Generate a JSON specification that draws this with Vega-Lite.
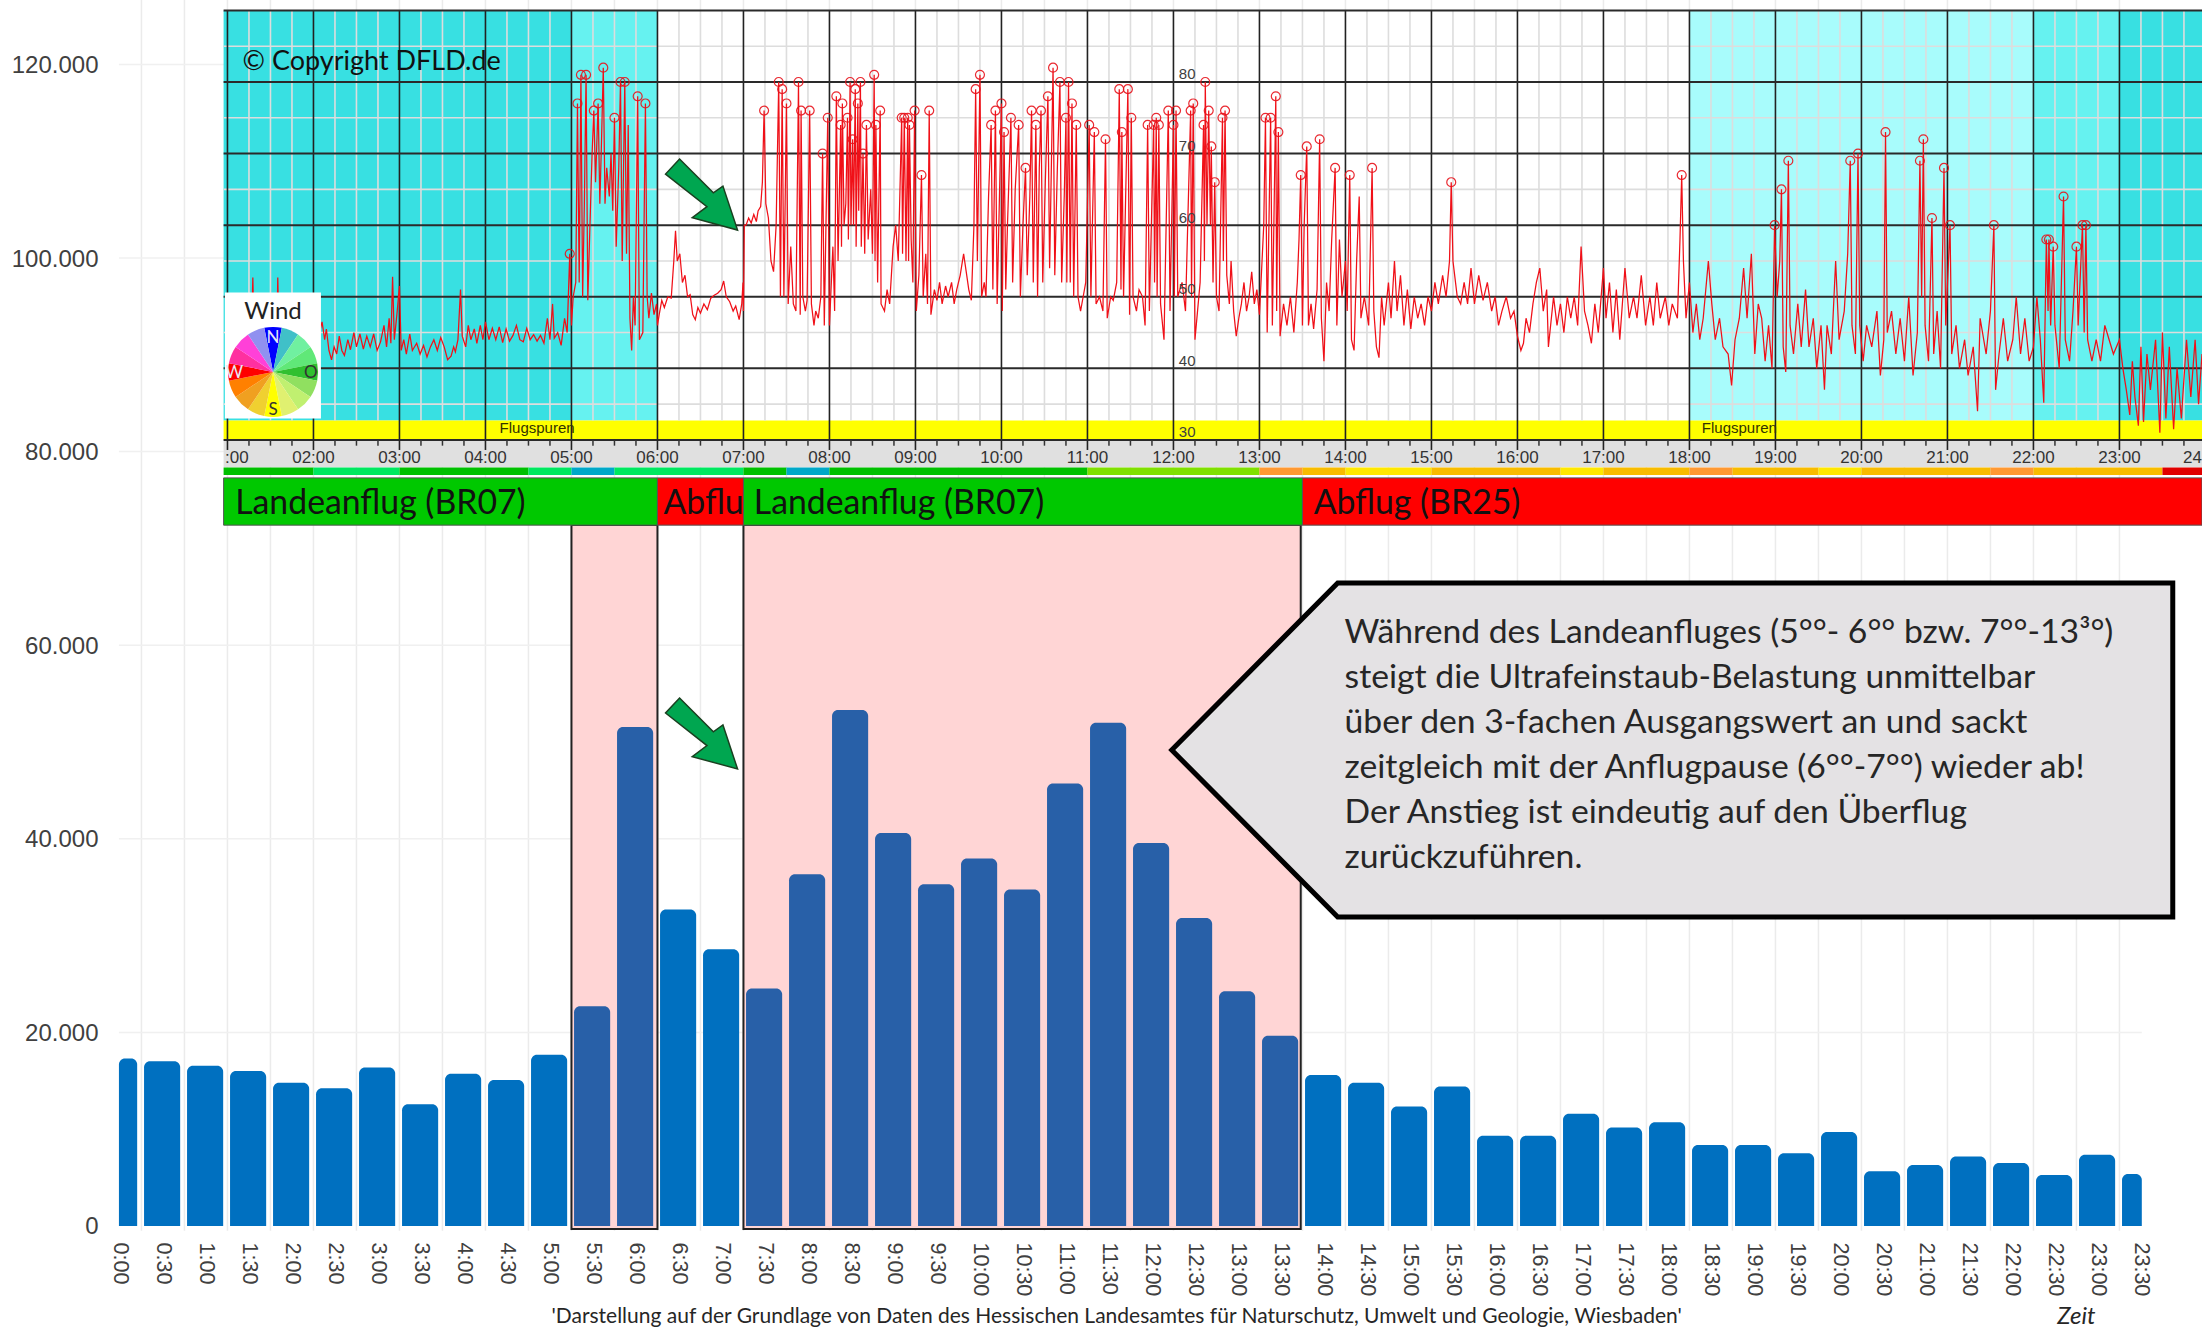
{"$schema":"https://vega.github.io/schema/vega-lite/v6.json","width":2202,"height":1327,"autosize":"none","padding":0,"background":"white",
"config":{"view":{"stroke":null},"text":{"font":"Lato"},"axis":{"grid":false,"domain":false,"ticks":false}},
"datasets":{
"halb":[{"t":0},{"t":0.5},{"t":1},{"t":1.5},{"t":2},{"t":2.5},{"t":3},{"t":3.5},{"t":4},{"t":4.5},{"t":5},{"t":5.5},{"t":6},{"t":6.5},{"t":7},{"t":7.5},{"t":8},{"t":8.5},{"t":9},{"t":9.5},{"t":10},{"t":10.5},{"t":11},{"t":11.5},{"t":12},{"t":12.5},{"t":13},{"t":13.5},{"t":14},{"t":14.5},{"t":15},{"t":15.5},{"t":16},{"t":16.5},{"t":17},{"t":17.5},{"t":18},{"t":18.5},{"t":19},{"t":19.5},{"t":20},{"t":20.5},{"t":21},{"t":21.5},{"t":22},{"t":22.5},{"t":23}],
"stunden":[{"t":1},{"t":2},{"t":3},{"t":4},{"t":5},{"t":6},{"t":7},{"t":8},{"t":9},{"t":10},{"t":11},{"t":12},{"t":13},{"t":14},{"t":15},{"t":16},{"t":17},{"t":18},{"t":19},{"t":20},{"t":21},{"t":22},{"t":23}],
"viertel":[{"t":1.25},{"t":1.5},{"t":1.75},{"t":2.25},{"t":2.5},{"t":2.75},{"t":3.25},{"t":3.5},{"t":3.75},{"t":4.25},{"t":4.5},{"t":4.75},{"t":5.25},{"t":5.5},{"t":5.75},{"t":6.25},{"t":6.5},{"t":6.75},{"t":7.25},{"t":7.5},{"t":7.75},{"t":8.25},{"t":8.5},{"t":8.75},{"t":9.25},{"t":9.5},{"t":9.75},{"t":10.25},{"t":10.5},{"t":10.75},{"t":11.25},{"t":11.5},{"t":11.75},{"t":12.25},{"t":12.5},{"t":12.75},{"t":13.25},{"t":13.5},{"t":13.75},{"t":14.25},{"t":14.5},{"t":14.75},{"t":15.25},{"t":15.5},{"t":15.75},{"t":16.25},{"t":16.5},{"t":16.75},{"t":17.25},{"t":17.5},{"t":17.75},{"t":18.25},{"t":18.5},{"t":18.75},{"t":19.25},{"t":19.5},{"t":19.75},{"t":20.25},{"t":20.5},{"t":20.75},{"t":21.25},{"t":21.5},{"t":21.75},{"t":22.25},{"t":22.5},{"t":22.75},{"t":23.25},{"t":23.5},{"t":23.75}],
"balken":[{"l":"0:00","von":-0.262,"bis":-0.05,"w":17300,"b":"aus"},{"l":"0:30","von":0.03,"bis":0.45,"w":17030,"b":"aus"},{"l":"1:00","von":0.53,"bis":0.95,"w":16550,"b":"aus"},{"l":"1:30","von":1.03,"bis":1.45,"w":16000,"b":"aus"},{"l":"2:00","von":1.53,"bis":1.95,"w":14800,"b":"aus"},{"l":"2:30","von":2.03,"bis":2.45,"w":14240,"b":"aus"},{"l":"3:00","von":2.53,"bis":2.95,"w":16380,"b":"aus"},{"l":"3:30","von":3.03,"bis":3.45,"w":12590,"b":"aus"},{"l":"4:00","von":3.53,"bis":3.95,"w":15720,"b":"aus"},{"l":"4:30","von":4.03,"bis":4.45,"w":15070,"b":"aus"},{"l":"5:00","von":4.53,"bis":4.95,"w":17690,"b":"aus"},{"l":"5:30","von":5.03,"bis":5.45,"w":22690,"b":"an"},{"l":"6:00","von":5.53,"bis":5.95,"w":51540,"b":"an"},{"l":"6:30","von":6.03,"bis":6.45,"w":32700,"b":"aus"},{"l":"7:00","von":6.53,"bis":6.95,"w":28600,"b":"aus"},{"l":"7:30","von":7.03,"bis":7.45,"w":24530,"b":"an"},{"l":"8:00","von":7.53,"bis":7.95,"w":36350,"b":"an"},{"l":"8:30","von":8.03,"bis":8.45,"w":53300,"b":"an"},{"l":"9:00","von":8.53,"bis":8.95,"w":40600,"b":"an"},{"l":"9:30","von":9.03,"bis":9.45,"w":35300,"b":"an"},{"l":"10:00","von":9.53,"bis":9.95,"w":37960,"b":"an"},{"l":"10:30","von":10.03,"bis":10.45,"w":34750,"b":"an"},{"l":"11:00","von":10.53,"bis":10.95,"w":45700,"b":"an"},{"l":"11:30","von":11.03,"bis":11.45,"w":52000,"b":"an"},{"l":"12:00","von":11.53,"bis":11.95,"w":39570,"b":"an"},{"l":"12:30","von":12.03,"bis":12.45,"w":31830,"b":"an"},{"l":"13:00","von":12.53,"bis":12.95,"w":24240,"b":"an"},{"l":"13:30","von":13.03,"bis":13.45,"w":19660,"b":"an"},{"l":"14:00","von":13.53,"bis":13.95,"w":15600,"b":"aus"},{"l":"14:30","von":14.03,"bis":14.45,"w":14800,"b":"aus"},{"l":"15:00","von":14.53,"bis":14.95,"w":12350,"b":"aus"},{"l":"15:30","von":15.03,"bis":15.45,"w":14420,"b":"aus"},{"l":"16:00","von":15.53,"bis":15.95,"w":9320,"b":"aus"},{"l":"16:30","von":16.03,"bis":16.45,"w":9320,"b":"aus"},{"l":"17:00","von":16.53,"bis":16.95,"w":11600,"b":"aus"},{"l":"17:30","von":17.03,"bis":17.45,"w":10180,"b":"aus"},{"l":"18:00","von":17.53,"bis":17.95,"w":10730,"b":"aus"},{"l":"18:30","von":18.03,"bis":18.45,"w":8380,"b":"aus"},{"l":"19:00","von":18.53,"bis":18.95,"w":8380,"b":"aus"},{"l":"19:30","von":19.03,"bis":19.45,"w":7520,"b":"aus"},{"l":"20:00","von":19.53,"bis":19.95,"w":9700,"b":"aus"},{"l":"20:30","von":20.03,"bis":20.45,"w":5660,"b":"aus"},{"l":"21:00","von":20.53,"bis":20.95,"w":6310,"b":"aus"},{"l":"21:30","von":21.03,"bis":21.45,"w":7180,"b":"aus"},{"l":"22:00","von":21.53,"bis":21.95,"w":6520,"b":"aus"},{"l":"22:30","von":22.03,"bis":22.45,"w":5280,"b":"aus"},{"l":"23:00","von":22.53,"bis":22.95,"w":7350,"b":"aus"},{"l":"23:30","von":23.03,"bis":23.26,"w":5380,"b":"aus"}],
"pegel":[{"t":1.0,"d":45},{"t":1.05,"d":43},{"t":1.12,"d":44},{"t":1.2,"d":43},{"t":1.28,"d":45},{"t":1.295,"d":52.7},{"t":1.31,"d":44},{"t":1.4,"d":43},{"t":1.5,"d":44},{"t":1.575,"d":45},{"t":1.585,"d":52.7},{"t":1.6,"d":44},{"t":1.7,"d":43.5},{"t":1.8,"d":45},{"t":1.9,"d":44},{"t":2.0,"d":46},{"t":2.05,"d":44},{"t":2.1,"d":46.5},{"t":2.13,"d":44},{"t":2.15,"d":45.5},{"t":2.18,"d":42.5},{"t":2.21,"d":41.2},{"t":2.24,"d":43},{"t":2.27,"d":42},{"t":2.3,"d":44.5},{"t":2.33,"d":42.5},{"t":2.36,"d":41.8},{"t":2.4,"d":44},{"t":2.43,"d":42.6},{"t":2.47,"d":45},{"t":2.5,"d":43},{"t":2.54,"d":44.8},{"t":2.58,"d":42.7},{"t":2.62,"d":44.5},{"t":2.66,"d":43},{"t":2.7,"d":44.8},{"t":2.74,"d":42.5},{"t":2.78,"d":43.7},{"t":2.82,"d":46},{"t":2.85,"d":43},{"t":2.88,"d":47},{"t":2.9,"d":43.5},{"t":2.92,"d":52.8},{"t":2.94,"d":44},{"t":2.97,"d":47.5},{"t":3.0,"d":51.5},{"t":3.02,"d":42.5},{"t":3.05,"d":44},{"t":3.08,"d":42},{"t":3.12,"d":44.8},{"t":3.15,"d":42.5},{"t":3.2,"d":43.5},{"t":3.24,"d":42},{"t":3.28,"d":43.2},{"t":3.32,"d":41.6},{"t":3.36,"d":43},{"t":3.4,"d":44},{"t":3.44,"d":42.5},{"t":3.48,"d":44.3},{"t":3.52,"d":43},{"t":3.56,"d":41.2},{"t":3.6,"d":41.7},{"t":3.63,"d":43},{"t":3.65,"d":42.3},{"t":3.68,"d":44},{"t":3.71,"d":51},{"t":3.73,"d":44.5},{"t":3.77,"d":43},{"t":3.8,"d":46},{"t":3.83,"d":44},{"t":3.87,"d":45.5},{"t":3.9,"d":43.5},{"t":3.94,"d":46},{"t":3.97,"d":44},{"t":4.0,"d":46.5},{"t":4.04,"d":44},{"t":4.08,"d":45.6},{"t":4.12,"d":44},{"t":4.16,"d":45.8},{"t":4.2,"d":43.6},{"t":4.24,"d":45.5},{"t":4.28,"d":43.8},{"t":4.32,"d":44.6},{"t":4.36,"d":46},{"t":4.4,"d":44},{"t":4.44,"d":43.7},{"t":4.48,"d":45.6},{"t":4.52,"d":44},{"t":4.56,"d":44.7},{"t":4.6,"d":43.8},{"t":4.64,"d":44.6},{"t":4.68,"d":43.5},{"t":4.72,"d":47},{"t":4.75,"d":44},{"t":4.78,"d":49},{"t":4.8,"d":44.2},{"t":4.84,"d":45},{"t":4.88,"d":43.2},{"t":4.92,"d":47},{"t":4.95,"d":45},{"t":4.98,"d":56},{"t":5.0,"d":46},{"t":5.02,"d":50},{"t":5.05,"d":52},{"t":5.07,"d":77},{"t":5.09,"d":52},{"t":5.11,"d":81},{"t":5.13,"d":50},{"t":5.15,"d":63},{"t":5.17,"d":81},{"t":5.19,"d":49.5},{"t":5.22,"d":62},{"t":5.24,"d":70},{"t":5.26,"d":76},{"t":5.28,"d":66},{"t":5.31,"d":77},{"t":5.33,"d":63},{"t":5.35,"d":72},{"t":5.37,"d":82},{"t":5.39,"d":63},{"t":5.41,"d":68},{"t":5.44,"d":64},{"t":5.46,"d":70},{"t":5.48,"d":62},{"t":5.5,"d":75},{"t":5.52,"d":57},{"t":5.55,"d":68},{"t":5.57,"d":80},{"t":5.59,"d":55},{"t":5.62,"d":80},{"t":5.64,"d":56},{"t":5.66,"d":74},{"t":5.68,"d":47},{"t":5.7,"d":42.5},{"t":5.72,"d":50},{"t":5.74,"d":46},{"t":5.77,"d":78},{"t":5.79,"d":44},{"t":5.83,"d":45},{"t":5.86,"d":77},{"t":5.88,"d":50},{"t":5.9,"d":47},{"t":5.93,"d":50.5},{"t":5.96,"d":47.5},{"t":5.99,"d":49},{"t":6.0,"d":46},{"t":6.02,"d":47.5},{"t":6.05,"d":49.5},{"t":6.08,"d":48.5},{"t":6.12,"d":50},{"t":6.16,"d":49.8},{"t":6.19,"d":55},{"t":6.21,"d":59.2},{"t":6.23,"d":55},{"t":6.26,"d":56},{"t":6.29,"d":52},{"t":6.32,"d":53},{"t":6.35,"d":50},{"t":6.38,"d":50.3},{"t":6.41,"d":47.5},{"t":6.44,"d":46.8},{"t":6.47,"d":48.5},{"t":6.5,"d":47.7},{"t":6.54,"d":49},{"t":6.58,"d":48.2},{"t":6.62,"d":49.8},{"t":6.66,"d":50.2},{"t":6.7,"d":50.5},{"t":6.74,"d":51},{"t":6.77,"d":52.2},{"t":6.8,"d":50},{"t":6.84,"d":49.3},{"t":6.88,"d":48},{"t":6.91,"d":48.7},{"t":6.95,"d":46.8},{"t":6.98,"d":49},{"t":6.995,"d":52},{"t":7.0,"d":48},{"t":7.01,"d":60},{"t":7.03,"d":60},{"t":7.06,"d":61},{"t":7.09,"d":60.3},{"t":7.12,"d":61.5},{"t":7.15,"d":60.5},{"t":7.17,"d":62},{"t":7.2,"d":62.6},{"t":7.22,"d":66},{"t":7.24,"d":76},{"t":7.26,"d":63},{"t":7.29,"d":61},{"t":7.32,"d":55},{"t":7.35,"d":53.5},{"t":7.38,"d":60},{"t":7.41,"d":80},{"t":7.43,"d":50},{"t":7.45,"d":79},{"t":7.47,"d":50},{"t":7.5,"d":77},{"t":7.52,"d":49},{"t":7.55,"d":57},{"t":7.58,"d":49},{"t":7.61,"d":48},{"t":7.64,"d":80},{"t":7.66,"d":47.5},{"t":7.67,"d":76},{"t":7.69,"d":50},{"t":7.72,"d":48},{"t":7.74,"d":49.5},{"t":7.77,"d":76},{"t":7.79,"d":49},{"t":7.82,"d":46},{"t":7.84,"d":48},{"t":7.87,"d":47},{"t":7.9,"d":50},{"t":7.92,"d":70},{"t":7.94,"d":46},{"t":7.98,"d":75},{"t":8.0,"d":46},{"t":8.04,"d":57},{"t":8.06,"d":48},{"t":8.08,"d":78},{"t":8.1,"d":55},{"t":8.13,"d":74},{"t":8.14,"d":57},{"t":8.15,"d":77},{"t":8.17,"d":60},{"t":8.19,"d":63},{"t":8.21,"d":75},{"t":8.22,"d":58},{"t":8.24,"d":80},{"t":8.25,"d":60},{"t":8.27,"d":72},{"t":8.28,"d":60},{"t":8.3,"d":79},{"t":8.31,"d":57},{"t":8.33,"d":77},{"t":8.34,"d":62},{"t":8.36,"d":80},{"t":8.37,"d":57},{"t":8.39,"d":70},{"t":8.41,"d":56},{"t":8.43,"d":74},{"t":8.45,"d":58},{"t":8.48,"d":65},{"t":8.5,"d":56},{"t":8.52,"d":81},{"t":8.53,"d":55},{"t":8.54,"d":74},{"t":8.56,"d":52},{"t":8.59,"d":76},{"t":8.6,"d":49},{"t":8.64,"d":48},{"t":8.67,"d":51},{"t":8.7,"d":49},{"t":8.74,"d":57},{"t":8.77,"d":60},{"t":8.8,"d":55},{"t":8.84,"d":75},{"t":8.85,"d":56},{"t":8.87,"d":75},{"t":8.89,"d":55},{"t":8.91,"d":75},{"t":8.92,"d":55},{"t":8.93,"d":74},{"t":8.95,"d":58},{"t":8.97,"d":52},{"t":8.99,"d":76},{"t":9.01,"d":48},{"t":9.04,"d":53},{"t":9.07,"d":67},{"t":9.09,"d":50},{"t":9.12,"d":56},{"t":9.14,"d":49},{"t":9.16,"d":76},{"t":9.18,"d":47.5},{"t":9.22,"d":51},{"t":9.25,"d":49.5},{"t":9.28,"d":52},{"t":9.31,"d":49},{"t":9.35,"d":51.5},{"t":9.38,"d":50},{"t":9.42,"d":52},{"t":9.45,"d":49},{"t":9.48,"d":51},{"t":9.52,"d":53},{"t":9.56,"d":56},{"t":9.59,"d":53.5},{"t":9.62,"d":51},{"t":9.65,"d":49.5},{"t":9.68,"d":60},{"t":9.7,"d":79},{"t":9.72,"d":55},{"t":9.75,"d":81},{"t":9.77,"d":50},{"t":9.8,"d":52},{"t":9.82,"d":50},{"t":9.85,"d":64},{"t":9.88,"d":74},{"t":9.9,"d":51},{"t":9.93,"d":76},{"t":9.95,"d":49},{"t":10.0,"d":77},{"t":10.01,"d":48},{"t":10.03,"d":73},{"t":10.05,"d":51},{"t":10.07,"d":60},{"t":10.11,"d":75},{"t":10.13,"d":52},{"t":10.16,"d":65},{"t":10.2,"d":74},{"t":10.22,"d":50},{"t":10.25,"d":60},{"t":10.28,"d":68},{"t":10.3,"d":53},{"t":10.33,"d":64},{"t":10.35,"d":76},{"t":10.37,"d":52},{"t":10.4,"d":74},{"t":10.42,"d":50},{"t":10.44,"d":68},{"t":10.46,"d":76},{"t":10.48,"d":52},{"t":10.51,"d":66},{"t":10.54,"d":78},{"t":10.56,"d":54},{"t":10.6,"d":82},{"t":10.62,"d":53},{"t":10.65,"d":68},{"t":10.68,"d":80},{"t":10.7,"d":52},{"t":10.73,"d":64},{"t":10.75,"d":75},{"t":10.76,"d":52},{"t":10.78,"d":80},{"t":10.8,"d":52},{"t":10.82,"d":77},{"t":10.84,"d":50},{"t":10.87,"d":74},{"t":10.89,"d":50},{"t":10.92,"d":48},{"t":10.95,"d":50},{"t":10.98,"d":52},{"t":11.02,"d":74},{"t":11.04,"d":50},{"t":11.08,"d":73},{"t":11.1,"d":49},{"t":11.14,"d":50},{"t":11.18,"d":48},{"t":11.21,"d":72},{"t":11.23,"d":47},{"t":11.27,"d":50},{"t":11.3,"d":49.5},{"t":11.34,"d":52},{"t":11.37,"d":79},{"t":11.39,"d":51},{"t":11.4,"d":73},{"t":11.42,"d":50},{"t":11.47,"d":79},{"t":11.49,"d":47.5},{"t":11.51,"d":75},{"t":11.53,"d":50},{"t":11.57,"d":48},{"t":11.6,"d":51},{"t":11.64,"d":50},{"t":11.67,"d":46},{"t":11.7,"d":74},{"t":11.72,"d":48},{"t":11.77,"d":74},{"t":11.78,"d":52},{"t":11.8,"d":75},{"t":11.81,"d":50},{"t":11.83,"d":74},{"t":11.85,"d":49},{"t":11.89,"d":44},{"t":11.94,"d":76},{"t":11.96,"d":48},{"t":12.0,"d":74},{"t":12.01,"d":50},{"t":12.03,"d":76},{"t":12.05,"d":50},{"t":12.1,"d":52},{"t":12.14,"d":48},{"t":12.2,"d":76},{"t":12.21,"d":50},{"t":12.23,"d":77},{"t":12.25,"d":44},{"t":12.28,"d":48},{"t":12.31,"d":52},{"t":12.35,"d":74},{"t":12.36,"d":55},{"t":12.37,"d":80},{"t":12.39,"d":60},{"t":12.41,"d":76},{"t":12.43,"d":60},{"t":12.44,"d":71},{"t":12.46,"d":52},{"t":12.48,"d":66},{"t":12.5,"d":50},{"t":12.53,"d":48},{"t":12.57,"d":75},{"t":12.58,"d":55},{"t":12.6,"d":76},{"t":12.62,"d":53},{"t":12.65,"d":49},{"t":12.67,"d":55},{"t":12.7,"d":48},{"t":12.73,"d":44.5},{"t":12.76,"d":47},{"t":12.79,"d":49},{"t":12.82,"d":52},{"t":12.85,"d":48},{"t":12.88,"d":50},{"t":12.91,"d":53.5},{"t":12.94,"d":49},{"t":12.97,"d":51},{"t":13.0,"d":47.5},{"t":13.03,"d":55},{"t":13.05,"d":60},{"t":13.07,"d":75},{"t":13.09,"d":45},{"t":13.13,"d":75},{"t":13.15,"d":46},{"t":13.19,"d":78},{"t":13.2,"d":48},{"t":13.22,"d":73},{"t":13.24,"d":44.5},{"t":13.28,"d":49},{"t":13.32,"d":46},{"t":13.36,"d":50},{"t":13.4,"d":45},{"t":13.44,"d":52},{"t":13.46,"d":58},{"t":13.48,"d":67},{"t":13.5,"d":46},{"t":13.52,"d":60},{"t":13.55,"d":71},{"t":13.57,"d":46},{"t":13.6,"d":49},{"t":13.63,"d":45.5},{"t":13.67,"d":51},{"t":13.7,"d":72},{"t":13.72,"d":47},{"t":13.75,"d":41},{"t":13.78,"d":52},{"t":13.81,"d":48},{"t":13.84,"d":58},{"t":13.88,"d":68},{"t":13.9,"d":46},{"t":13.93,"d":58},{"t":13.96,"d":50},{"t":14.0,"d":55},{"t":14.02,"d":48},{"t":14.05,"d":67},{"t":14.07,"d":44},{"t":14.1,"d":42.5},{"t":14.13,"d":55},{"t":14.16,"d":64},{"t":14.18,"d":47},{"t":14.22,"d":50},{"t":14.27,"d":46},{"t":14.31,"d":68},{"t":14.33,"d":48},{"t":14.36,"d":43},{"t":14.39,"d":41.5},{"t":14.42,"d":50},{"t":14.45,"d":46},{"t":14.5,"d":52},{"t":14.53,"d":47},{"t":14.57,"d":55},{"t":14.6,"d":48},{"t":14.64,"d":53},{"t":14.68,"d":46},{"t":14.72,"d":51},{"t":14.76,"d":45.5},{"t":14.8,"d":50},{"t":14.84,"d":47},{"t":14.88,"d":49},{"t":14.92,"d":46},{"t":14.96,"d":50},{"t":15.0,"d":48},{"t":15.04,"d":52},{"t":15.08,"d":49},{"t":15.13,"d":53},{"t":15.17,"d":50},{"t":15.21,"d":55},{"t":15.23,"d":66},{"t":15.25,"d":55},{"t":15.3,"d":50},{"t":15.34,"d":49},{"t":15.38,"d":52},{"t":15.42,"d":49},{"t":15.46,"d":54},{"t":15.5,"d":49},{"t":15.55,"d":53},{"t":15.6,"d":49.5},{"t":15.65,"d":52},{"t":15.7,"d":48},{"t":15.74,"d":50},{"t":15.78,"d":46},{"t":15.82,"d":48},{"t":15.87,"d":50},{"t":15.92,"d":47},{"t":15.96,"d":48},{"t":16.0,"d":44.5},{"t":16.04,"d":42.5},{"t":16.07,"d":43.5},{"t":16.1,"d":47},{"t":16.14,"d":45},{"t":16.18,"d":49},{"t":16.22,"d":52},{"t":16.26,"d":54},{"t":16.3,"d":48},{"t":16.34,"d":51},{"t":16.36,"d":43},{"t":16.42,"d":50},{"t":16.46,"d":46},{"t":16.5,"d":49},{"t":16.54,"d":45},{"t":16.58,"d":50},{"t":16.62,"d":47},{"t":16.66,"d":50},{"t":16.7,"d":46},{"t":16.74,"d":57},{"t":16.78,"d":48},{"t":16.82,"d":46},{"t":16.86,"d":43.5},{"t":16.9,"d":49},{"t":16.94,"d":45},{"t":17.0,"d":54},{"t":17.03,"d":47},{"t":17.07,"d":52},{"t":17.11,"d":45},{"t":17.15,"d":51},{"t":17.19,"d":44},{"t":17.25,"d":54},{"t":17.3,"d":47},{"t":17.35,"d":50},{"t":17.39,"d":47},{"t":17.44,"d":53},{"t":17.49,"d":46},{"t":17.54,"d":50},{"t":17.58,"d":46},{"t":17.62,"d":52},{"t":17.66,"d":47},{"t":17.72,"d":50},{"t":17.76,"d":46},{"t":17.8,"d":49},{"t":17.86,"d":47},{"t":17.89,"d":58},{"t":17.91,"d":67},{"t":17.93,"d":55},{"t":17.96,"d":47},{"t":18.0,"d":52},{"t":18.04,"d":45},{"t":18.08,"d":49},{"t":18.12,"d":44},{"t":18.16,"d":47},{"t":18.22,"d":55},{"t":18.26,"d":49},{"t":18.3,"d":44},{"t":18.35,"d":47},{"t":18.39,"d":43},{"t":18.45,"d":42},{"t":18.49,"d":37.6},{"t":18.53,"d":44},{"t":18.58,"d":47},{"t":18.63,"d":54},{"t":18.67,"d":47},{"t":18.72,"d":56},{"t":18.76,"d":42},{"t":18.8,"d":49},{"t":18.84,"d":47},{"t":18.88,"d":41},{"t":18.92,"d":46},{"t":18.96,"d":40},{"t":18.99,"d":60},{"t":19.02,"d":50},{"t":19.05,"d":55},{"t":19.07,"d":65},{"t":19.09,"d":43},{"t":19.12,"d":39.5},{"t":19.15,"d":69},{"t":19.17,"d":46},{"t":19.21,"d":42},{"t":19.26,"d":49},{"t":19.3,"d":43},{"t":19.35,"d":51},{"t":19.39,"d":43},{"t":19.44,"d":47},{"t":19.48,"d":40},{"t":19.53,"d":46},{"t":19.57,"d":37},{"t":19.6,"d":46},{"t":19.65,"d":42},{"t":19.7,"d":55},{"t":19.74,"d":44},{"t":19.8,"d":48},{"t":19.84,"d":56},{"t":19.87,"d":69},{"t":19.89,"d":46},{"t":19.93,"d":42},{"t":19.96,"d":70},{"t":19.98,"d":46},{"t":20.02,"d":41},{"t":20.06,"d":46},{"t":20.12,"d":43},{"t":20.18,"d":48},{"t":20.22,"d":39},{"t":20.26,"d":44},{"t":20.28,"d":73},{"t":20.3,"d":45},{"t":20.35,"d":48},{"t":20.4,"d":42},{"t":20.45,"d":47},{"t":20.5,"d":41},{"t":20.55,"d":50},{"t":20.6,"d":39},{"t":20.65,"d":45},{"t":20.68,"d":69},{"t":20.7,"d":50},{"t":20.72,"d":72},{"t":20.74,"d":46},{"t":20.78,"d":41},{"t":20.82,"d":61},{"t":20.84,"d":42},{"t":20.88,"d":48},{"t":20.92,"d":40},{"t":20.96,"d":68},{"t":20.98,"d":46},{"t":21.03,"d":60},{"t":21.05,"d":42},{"t":21.1,"d":46},{"t":21.14,"d":40},{"t":21.2,"d":44},{"t":21.24,"d":39},{"t":21.3,"d":43},{"t":21.35,"d":34},{"t":21.38,"d":47},{"t":21.45,"d":42},{"t":21.5,"d":48},{"t":21.54,"d":60},{"t":21.56,"d":37},{"t":21.6,"d":42},{"t":21.65,"d":47},{"t":21.7,"d":41},{"t":21.76,"d":44},{"t":21.8,"d":50},{"t":21.85,"d":42},{"t":21.9,"d":47},{"t":21.95,"d":41},{"t":22.0,"d":43},{"t":22.04,"d":50},{"t":22.08,"d":44},{"t":22.12,"d":35.2},{"t":22.15,"d":58},{"t":22.17,"d":48},{"t":22.18,"d":58},{"t":22.2,"d":46},{"t":22.23,"d":57},{"t":22.25,"d":46},{"t":22.3,"d":40},{"t":22.35,"d":64},{"t":22.37,"d":44},{"t":22.42,"d":41},{"t":22.46,"d":48},{"t":22.5,"d":57},{"t":22.52,"d":46},{"t":22.57,"d":60},{"t":22.59,"d":45},{"t":22.61,"d":60},{"t":22.63,"d":44},{"t":22.68,"d":41},{"t":22.73,"d":44},{"t":22.78,"d":41},{"t":22.83,"d":46},{"t":22.88,"d":44},{"t":22.93,"d":42},{"t":23.0,"d":44},{"t":23.04,"d":40},{"t":23.08,"d":37},{"t":23.12,"d":33.5},{"t":23.15,"d":41},{"t":23.18,"d":36},{"t":23.22,"d":32},{"t":23.25,"d":43},{"t":23.28,"d":32.5},{"t":23.32,"d":42},{"t":23.36,"d":37},{"t":23.42,"d":44},{"t":23.47,"d":31},{"t":23.5,"d":45},{"t":23.54,"d":33},{"t":23.58,"d":43},{"t":23.63,"d":31.5},{"t":23.67,"d":40},{"t":23.72,"d":33},{"t":23.78,"d":44},{"t":23.83,"d":36},{"t":23.88,"d":44},{"t":23.92,"d":35},{"t":23.96,"d":42}],
"spitzen":[{"t":4.98,"d":56},{"t":5.07,"d":77},{"t":5.11,"d":81},{"t":5.17,"d":81},{"t":5.26,"d":76},{"t":5.31,"d":77},{"t":5.37,"d":82},{"t":5.5,"d":75},{"t":5.57,"d":80},{"t":5.62,"d":80},{"t":5.77,"d":78},{"t":5.86,"d":77},{"t":7.24,"d":76},{"t":7.41,"d":80},{"t":7.45,"d":79},{"t":7.5,"d":77},{"t":7.64,"d":80},{"t":7.67,"d":76},{"t":7.77,"d":76},{"t":7.92,"d":70},{"t":7.98,"d":75},{"t":8.08,"d":78},{"t":8.13,"d":74},{"t":8.15,"d":77},{"t":8.21,"d":75},{"t":8.24,"d":80},{"t":8.27,"d":72},{"t":8.3,"d":79},{"t":8.33,"d":77},{"t":8.36,"d":80},{"t":8.39,"d":70},{"t":8.43,"d":74},{"t":8.52,"d":81},{"t":8.54,"d":74},{"t":8.59,"d":76},{"t":8.84,"d":75},{"t":8.87,"d":75},{"t":8.91,"d":75},{"t":8.93,"d":74},{"t":8.99,"d":76},{"t":9.07,"d":67},{"t":9.16,"d":76},{"t":9.7,"d":79},{"t":9.75,"d":81},{"t":9.88,"d":74},{"t":9.93,"d":76},{"t":10.0,"d":77},{"t":10.03,"d":73},{"t":10.11,"d":75},{"t":10.2,"d":74},{"t":10.28,"d":68},{"t":10.35,"d":76},{"t":10.4,"d":74},{"t":10.46,"d":76},{"t":10.54,"d":78},{"t":10.6,"d":82},{"t":10.68,"d":80},{"t":10.75,"d":75},{"t":10.78,"d":80},{"t":10.82,"d":77},{"t":10.87,"d":74},{"t":11.02,"d":74},{"t":11.08,"d":73},{"t":11.21,"d":72},{"t":11.37,"d":79},{"t":11.4,"d":73},{"t":11.47,"d":79},{"t":11.51,"d":75},{"t":11.7,"d":74},{"t":11.77,"d":74},{"t":11.8,"d":75},{"t":11.83,"d":74},{"t":11.94,"d":76},{"t":12.0,"d":74},{"t":12.03,"d":76},{"t":12.2,"d":76},{"t":12.23,"d":77},{"t":12.35,"d":74},{"t":12.37,"d":80},{"t":12.41,"d":76},{"t":12.44,"d":71},{"t":12.48,"d":66},{"t":12.57,"d":75},{"t":12.6,"d":76},{"t":13.07,"d":75},{"t":13.13,"d":75},{"t":13.19,"d":78},{"t":13.22,"d":73},{"t":13.48,"d":67},{"t":13.55,"d":71},{"t":13.7,"d":72},{"t":13.88,"d":68},{"t":14.05,"d":67},{"t":14.31,"d":68},{"t":15.23,"d":66},{"t":17.91,"d":67},{"t":18.99,"d":60},{"t":19.07,"d":65},{"t":19.15,"d":69},{"t":19.87,"d":69},{"t":19.96,"d":70},{"t":20.28,"d":73},{"t":20.68,"d":69},{"t":20.72,"d":72},{"t":20.82,"d":61},{"t":20.96,"d":68},{"t":21.03,"d":60},{"t":21.54,"d":60},{"t":22.15,"d":58},{"t":22.18,"d":58},{"t":22.23,"d":57},{"t":22.35,"d":64},{"t":22.5,"d":57},{"t":22.57,"d":60},{"t":22.61,"d":60}]
},
"resolve":{"scale":{"y":"independent"}},
"layer":[
{"layer":[
{"data":{"name":"halb"},"mark":{"type":"rule","color":"#EBEBEB","strokeWidth":1.5},"encoding":{"x":{"field":"t","type":"quantitative","title":null,"scale":{"domain":[-1.645,23.96],"nice":false,"zero":false},"axis":{"orient":"bottom","offset":-101,"values":[-0.26,0.24,0.74,1.24,1.74,2.24,2.74,3.24,3.74,4.24,4.74,5.24,5.74,6.24,6.74,7.24,7.74,8.24,8.74,9.24,9.74,10.24,10.74,11.24,11.74,12.24,12.74,13.24,13.74,14.24,14.74,15.24,15.74,16.24,16.74,17.24,17.74,18.24,18.74,19.24,19.74,20.24,20.74,21.24,21.74,22.24,22.74,23.24],"labelExpr":"floor(datum.value+0.27)+':'+(datum.value+0.27-floor(datum.value+0.27)>0.25?'30':'00')","labelAngle":90,"labelOverlap":false,"labelBound":false,"labelFlush":false,"domain":false,"ticks":false,"grid":false,"labelPadding":16,"labelFont":"Liberation Sans","labelFontSize":21.5,"labelColor":"#404040","title":null}},"y":{"datum":-500,"type":"quantitative","title":null,"scale":{"domain":[-10434,126653],"nice":false,"zero":false},"axis":{"orient":"left","offset":-98,"values":[0,20000,40000,60000,80000,100000,120000],"labelExpr":"replace(format(datum.value,','),',','.')","labelOffset":1,"domain":false,"ticks":false,"grid":false,"labelPadding":0,"labelFont":"Liberation Sans","labelFontSize":24,"labelColor":"#404040","title":null}},"y2":{"datum":126653}}},
{"data":{"values":[{"w":20000},{"w":40000},{"w":60000},{"w":80000},{"w":100000},{"w":120000}]},"mark":{"type":"rule","color":"#F0F0F0","strokeWidth":1.5},"encoding":{"y":{"field":"w","type":"quantitative"},"x":{"datum":-0.262,"type":"quantitative"},"x2":{"datum":23.26}}},
{"data":{"values":[{"von":5.0,"bis":6.0},{"von":7.0,"bis":13.48}]},"mark":{"type":"rect","fill":"#FFD5D5","stroke":"#222222","strokeWidth":2},"encoding":{"x":{"field":"von","type":"quantitative"},"x2":{"field":"bis"},"y":{"datum":-310,"type":"quantitative"},"y2":{"datum":72417}}},
{"data":{"name":"balken"},"mark":{"type":"bar","cornerRadiusTopLeft":6,"cornerRadiusTopRight":6},"encoding":{"x":{"field":"von","type":"quantitative"},"x2":{"field":"bis"},"y":{"field":"w","type":"quantitative"},"y2":{"datum":0},"color":{"field":"b","type":"nominal","scale":{"domain":["aus","an"],"range":["#0070C0","#2860A8"]},"legend":null}}},
{"data":{"values":[{"t":11.98,"o":49174,"u":49174},{"t":13.91,"o":66426,"u":31921},{"t":23.62,"o":66426,"u":31921}]},"mark":{"type":"area","fill":"#E4E2E4","stroke":"#000000","strokeWidth":5,"strokeJoin":"miter"},"encoding":{"x":{"field":"t","type":"quantitative"},"y":{"field":"o","type":"quantitative"},"y2":{"field":"u"}}},
{"data":{"values":[{"t":13.99,"w":61260,"z":"Während des Landeanfluges (5°°- 6°° bzw. 7°°-13³°)"},{"t":13.99,"w":56611,"z":"steigt die Ultrafeinstaub-Belastung unmittelbar"},{"t":13.99,"w":51962,"z":"über den 3-fachen Ausgangswert an und sackt"},{"t":13.99,"w":47313,"z":"zeitgleich mit der Anflugpause (6°°-7°°) wieder ab!"},{"t":13.99,"w":42664,"z":"Der Anstieg ist eindeutig auf den Überflug"},{"t":13.99,"w":38015,"z":"zurückzuführen."}]},"mark":{"type":"text","align":"left","baseline":"middle","font":"Lato","fontSize":33.7,"color":"#262626"},"encoding":{"x":{"field":"t","type":"quantitative"},"y":{"field":"w","type":"quantitative"},"text":{"field":"z"}}},
{"data":{"values":[{"t":6.494,"w":50826}]},"mark":{"type":"point","shape":"M-2.04 -3.6L1.34 -0.22L2.3 -0.9L3.76 3.5L-0.77 2.26L0.7 1.16L-3.44 -2.1Z","size":400,"filled":true,"fill":"#00A650","fillOpacity":1,"stroke":"#1A4020","strokeWidth":1.5},"encoding":{"x":{"field":"t","type":"quantitative"},"y":{"field":"w","type":"quantitative"}}},
{"data":{"values":[{"t":11.34,"w":-9400,"z":"'Darstellung auf der Grundlage von Daten des Hessischen Landesamtes  für Naturschutz, Umwelt und Geologie, Wiesbaden'"}]},"mark":{"type":"text","align":"center","baseline":"middle","font":"Lato","fontSize":21,"color":"#262626"},"encoding":{"x":{"field":"t","type":"quantitative"},"y":{"field":"w","type":"quantitative"},"text":{"field":"z"}}},
{"data":{"values":[{"t":22.5,"w":-9400,"z":"Zeit"}]},"mark":{"type":"text","align":"center","baseline":"middle","font":"Lato","fontSize":24,"fontStyle":"italic","color":"#262626"},"encoding":{"x":{"field":"t","type":"quantitative"},"y":{"field":"w","type":"quantitative"},"text":{"field":"z"}}}
]},
{"resolve":{"scale":{"fill":"independent"}},"layer":[
{"data":{"values":[{"von":0.955,"bis":5,"a":"dunkel"},{"von":5,"bis":6,"a":"mittel"},{"von":6,"bis":18,"a":"tag"},{"von":18,"bis":22,"a":"hell"},{"von":22,"bis":23,"a":"mittel"},{"von":23,"bis":23.96,"a":"dunkel"}]},"mark":{"type":"rect"},"encoding":{"x":{"field":"von","type":"quantitative","scale":{"domain":[-1.645,23.96],"nice":false,"zero":false}},"x2":{"field":"bis"},"y":{"datum":32.7,"type":"quantitative","title":null,"axis":{"orient":"left","offset":-1195,"values":[30,40,50,60,70,80],"labelOffset":-8,"domain":false,"ticks":false,"grid":false,"labelPadding":0,"labelFont":"Liberation Sans","labelFontSize":15,"labelColor":"#404040","title":null,"zindex":1},"scale":{"domain":[-93.9,91.45],"nice":false,"zero":false}},"y2":{"datum":90},"fill":{"field":"a","type":"nominal","scale":{"domain":["dunkel","mittel","tag","hell"],"range":["#38E0E2","#66F2F0","#FFFFFF","#A8FCFC"]},"legend":null}}},
{"data":{"values":[{"von":0.955,"bis":23.96}]},"mark":{"type":"rect","fill":"#FFFF00"},"encoding":{"x":{"field":"von","type":"quantitative"},"x2":{"field":"bis"},"y":{"datum":30,"type":"quantitative"},"y2":{"datum":32.7}}},
{"data":{"values":[{"von":0.955,"bis":23.96}]},"mark":{"type":"rect","fill":"#E0E0E0"},"encoding":{"x":{"field":"von","type":"quantitative"},"x2":{"field":"bis"},"y":{"datum":26.2,"type":"quantitative"},"y2":{"datum":30}}},
{"data":{"name":"viertel"},"mark":{"type":"rule","color":"#DDDDDD","strokeWidth":1.6},"encoding":{"x":{"field":"t","type":"quantitative"},"y":{"datum":32.7,"type":"quantitative"},"y2":{"datum":90}}},
{"data":{"values":[{"d":85},{"d":75},{"d":65},{"d":55},{"d":45},{"d":35}]},"mark":{"type":"rule","color":"#DDDDDD","strokeWidth":1.6},"encoding":{"y":{"field":"d","type":"quantitative"},"x":{"datum":0.955,"type":"quantitative"},"x2":{"datum":23.96}}},
{"data":{"name":"stunden"},"mark":{"type":"rule","color":"#222222","strokeWidth":1.6},"encoding":{"x":{"field":"t","type":"quantitative"},"y":{"datum":30,"type":"quantitative"},"y2":{"datum":90}}},
{"data":{"values":[{"d":90},{"d":80},{"d":70},{"d":60},{"d":50},{"d":40},{"d":30}]},"mark":{"type":"rule","color":"#2A2A2A","strokeWidth":2},"encoding":{"y":{"field":"d","type":"quantitative"},"x":{"datum":0.955,"type":"quantitative"},"x2":{"datum":23.96}}},
{"data":{"name":"pegel"},"mark":{"type":"line","color":"#F01018","strokeWidth":1.25,"interpolate":"linear"},"encoding":{"x":{"field":"t","type":"quantitative"},"y":{"field":"d","type":"quantitative"}}},
{"data":{"name":"spitzen"},"mark":{"type":"point","shape":"circle","size":80,"filled":false,"stroke":"#E8141C","strokeWidth":1.2,"opacity":0.9},"encoding":{"x":{"field":"t","type":"quantitative"},"y":{"field":"d","type":"quantitative"}}},
{"data":{"name":"viertel"},"mark":{"type":"rule","color":"#333333","strokeWidth":1.5},"encoding":{"x":{"field":"t","type":"quantitative"},"y":{"datum":29.2,"type":"quantitative"},"y2":{"datum":30}}},
{"data":{"name":"stunden"},"mark":{"type":"rule","color":"#222222","strokeWidth":1.6},"encoding":{"x":{"field":"t","type":"quantitative"},"y":{"datum":28.6,"type":"quantitative"},"y2":{"datum":30}}},
{"data":{"values":[{"t":1.11,"l":":00"},{"t":2,"l":"02:00"},{"t":3,"l":"03:00"},{"t":4,"l":"04:00"},{"t":5,"l":"05:00"},{"t":6,"l":"06:00"},{"t":7,"l":"07:00"},{"t":8,"l":"08:00"},{"t":9,"l":"09:00"},{"t":10,"l":"10:00"},{"t":11,"l":"11:00"},{"t":12,"l":"12:00"},{"t":13,"l":"13:00"},{"t":14,"l":"14:00"},{"t":15,"l":"15:00"},{"t":16,"l":"16:00"},{"t":17,"l":"17:00"},{"t":18,"l":"18:00"},{"t":19,"l":"19:00"},{"t":20,"l":"20:00"},{"t":21,"l":"21:00"},{"t":22,"l":"22:00"},{"t":23,"l":"23:00"},{"t":23.85,"l":"24"}]},"mark":{"type":"text","font":"Liberation Sans","fontSize":17,"baseline":"middle","color":"#333333"},"encoding":{"x":{"field":"t","type":"quantitative"},"y":{"datum":27.5,"type":"quantitative"},"text":{"field":"l"}}},
{"data":{"values":[{"von":0.955,"bis":2,"k":"gruen"},{"von":2,"bis":3,"k":"hellgruen"},{"von":3,"bis":4.5,"k":"gruen"},{"von":4.5,"bis":5,"k":"hellgruen"},{"von":5,"bis":5.5,"k":"blau"},{"von":5.5,"bis":7,"k":"hellgruen"},{"von":7,"bis":7.5,"k":"gruen"},{"von":7.5,"bis":8,"k":"blau"},{"von":8,"bis":11,"k":"gruen"},{"von":11,"bis":13,"k":"limette"},{"von":13,"bis":13.5,"k":"orange"},{"von":13.5,"bis":14,"k":"bernstein"},{"von":14,"bis":15,"k":"gelb"},{"von":15,"bis":16.5,"k":"bernstein"},{"von":16.5,"bis":17,"k":"gelb"},{"von":17,"bis":18,"k":"bernstein"},{"von":18,"bis":18.5,"k":"orange"},{"von":18.5,"bis":19.5,"k":"bernstein"},{"von":19.5,"bis":20,"k":"gelb"},{"von":20,"bis":21.5,"k":"bernstein"},{"von":21.5,"bis":22,"k":"orange"},{"von":22,"bis":23.5,"k":"bernstein"},{"von":23.5,"bis":23.96,"k":"rot"}]},"mark":{"type":"rect"},"encoding":{"x":{"field":"von","type":"quantitative"},"x2":{"field":"bis"},"y":{"datum":25.1,"type":"quantitative"},"y2":{"datum":26.15},"fill":{"field":"k","type":"nominal","scale":{"domain":["gruen","hellgruen","blau","limette","orange","bernstein","gelb","rot"],"range":["#00C000","#00E860","#00A8C8","#80E000","#FF9933","#F8BC00","#FFE800","#E00000"]},"legend":null}}},
{"data":{"values":[{"von":0.955,"bis":6,"p":"Landeanflug"},{"von":6,"bis":7,"p":"Abflug"},{"von":7,"bis":13.5,"p":"Landeanflug"},{"von":13.5,"bis":23.96,"p":"Abflug"}]},"mark":{"type":"rect","stroke":"#555555","strokeWidth":1},"encoding":{"x":{"field":"von","type":"quantitative"},"x2":{"field":"bis"},"y":{"datum":18.1,"type":"quantitative"},"y2":{"datum":24.7},"fill":{"field":"p","type":"nominal","scale":{"domain":["Landeanflug","Abflug"],"range":["#00C800","#FF0000"]},"legend":null}}},
{"data":{"values":[{"t":1.09,"z":"Landeanflug (BR07)"},{"t":6.07,"z":"Abflu"},{"t":7.12,"z":"Landeanflug (BR07)"},{"t":13.63,"z":"Abflug (BR25)"}]},"mark":{"type":"text","align":"left","baseline":"middle","font":"Lato","fontSize":33.8,"color":"#111111"},"encoding":{"x":{"field":"t","type":"quantitative"},"y":{"datum":21,"type":"quantitative"},"text":{"field":"z"}}},
{"data":{"values":[{"t":0.97,"bis":2.087}]},"mark":{"type":"rect","fill":"#FFFFFF"},"encoding":{"x":{"field":"t","type":"quantitative"},"x2":{"field":"bis"},"y":{"datum":33,"type":"quantitative"},"y2":{"datum":50.6}}},
{"data":{"values":[{"r":"N","von":-11.25,"bis":11.25},{"r":"NNO","von":11.25,"bis":33.75},{"r":"NO","von":33.75,"bis":56.25},{"r":"ONO","von":56.25,"bis":78.75},{"r":"O","von":78.75,"bis":101.25},{"r":"OSO","von":101.25,"bis":123.75},{"r":"SO","von":123.75,"bis":146.25},{"r":"SSO","von":146.25,"bis":168.75},{"r":"S","von":168.75,"bis":191.25},{"r":"SSW","von":191.25,"bis":213.75},{"r":"SW","von":213.75,"bis":236.25},{"r":"WSW","von":236.25,"bis":258.75},{"r":"W","von":258.75,"bis":281.25},{"r":"WNW","von":281.25,"bis":303.75},{"r":"NW","von":303.75,"bis":326.25},{"r":"NNW","von":326.25,"bis":348.75}]},"mark":{"type":"arc","outerRadius":45,"innerRadius":0},"encoding":{"x":{"datum":1.53,"type":"quantitative"},"y":{"datum":39.5,"type":"quantitative"},"theta":{"field":"von","type":"quantitative","stack":null,"scale":{"domain":[0,360],"range":[0,6.2832],"nice":false,"zero":false}},"theta2":{"field":"bis"},"fill":{"field":"r","type":"nominal","scale":{"domain":["N","NNO","NO","ONO","O","OSO","SO","SSO","S","SSW","SW","WSW","W","WNW","NW","NNW"],"range":["#0000FF","#40C0C8","#70F0A0","#60E878","#30C030","#90E060","#C0F070","#E0F070","#FFFF00","#F0D030","#F0A020","#FF8000","#FF0000","#FF30A0","#FF40D8","#9090F0"]},"legend":null}}},
{"data":{"values":[{"t":1.53,"d":47.9,"z":"Wind"}]},"mark":{"type":"text","font":"Lato","fontSize":24,"color":"#222222","baseline":"middle"},"encoding":{"x":{"field":"t","type":"quantitative"},"y":{"field":"d","type":"quantitative"},"text":{"field":"z"}}},
{"data":{"values":[{"t":1.53,"d":44.3,"z":"N"},{"t":1.08,"d":39.3,"z":"W"}]},"mark":{"type":"text","font":"Lato","fontSize":17,"color":"#E8E8F8","baseline":"middle"},"encoding":{"x":{"field":"t","type":"quantitative"},"y":{"field":"d","type":"quantitative"},"text":{"field":"z"}}},
{"data":{"values":[{"t":1.97,"d":39.3,"z":"O"},{"t":1.53,"d":34.2,"z":"S"}]},"mark":{"type":"text","font":"Lato","fontSize":17,"color":"#333333","baseline":"middle"},"encoding":{"x":{"field":"t","type":"quantitative"},"y":{"field":"d","type":"quantitative"},"text":{"field":"z"}}},
{"data":{"values":[{"t":4.6,"d":31.7,"z":"Flugspuren"},{"t":18.58,"d":31.7,"z":"Flugspuren"}]},"mark":{"type":"text","font":"Liberation Sans","fontSize":15,"color":"#333300","baseline":"middle"},"encoding":{"x":{"field":"t","type":"quantitative"},"y":{"field":"d","type":"quantitative"},"text":{"field":"z"}}},
{"data":{"values":[{"t":1.175,"d":82.8,"z":"© Copyright DFLD.de"}]},"mark":{"type":"text","align":"left","font":"Lato","fontSize":27,"color":"#111111","baseline":"middle"},"encoding":{"x":{"field":"t","type":"quantitative"},"y":{"field":"d","type":"quantitative"},"text":{"field":"z"}}},
{"data":{"values":[{"t":6.494,"d":64.2}]},"mark":{"type":"point","shape":"M-2.04 -3.6L1.34 -0.22L2.3 -0.9L3.76 3.5L-0.77 2.26L0.7 1.16L-3.44 -2.1Z","size":400,"filled":true,"fill":"#00A650","fillOpacity":1,"stroke":"#1A4020","strokeWidth":1.5},"encoding":{"x":{"field":"t","type":"quantitative"},"y":{"field":"d","type":"quantitative"}}}
]}
]}
